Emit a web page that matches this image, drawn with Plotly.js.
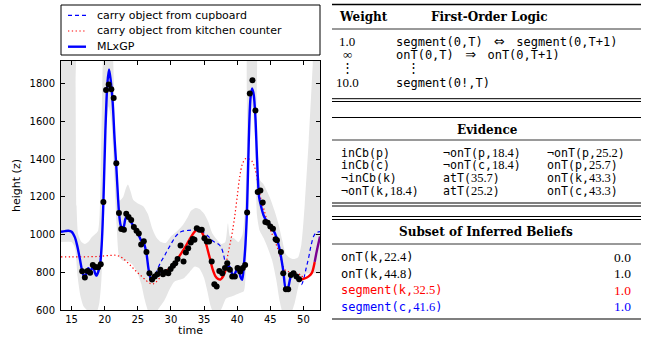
<!DOCTYPE html>
<html><head><meta charset="utf-8">
<script src="https://cdn.plot.ly/plotly-3.0.1.min.js"></script>
<style>body{margin:0;background:#fff}</style>
</head><body><div id="chart" style="width:651px;height:337px"></div>
<script>
// ---------- data ----------
const xTickVals = [15, 20, 25, 30, 35, 40, 45, 50];
const yTickVals = [600, 800, 1000, 1200, 1400, 1600, 1800];

const obsT = [16.6,17.0,17.4,17.8,18.2,18.6,19.0,19.4,19.8,20.2,20.6,21.0,21.35,21.75,22.15,22.5,22.9,23.25,23.6,24.0,24.4,24.8,25.15,25.5,25.9,26.3,26.75,27.15,27.55,27.95,28.4,28.8,29.2,29.6,29.95,30.3,30.65,31.0,31.45,31.9,32.25,32.6,33.0,33.3,33.55,33.9,34.3,34.65,35.05,35.4,35.75,36.15,36.55,36.9,37.3,37.75,38.15,38.5,38.9,39.25,39.65,40.05,40.45,40.85,41.2,41.5,41.9,42.3,42.75,43.1,43.5,43.85,44.25,44.6,45.0,45.4,45.8,46.0,46.6,46.95,47.35,47.7,48.1,48.5,48.95,49.35];
const obsV = [805,772,807,798,838,828,827,843,1172,1766,1796,1770,1724,1378,1114,1029,1025,1110,1093,1077,1040,1020,1006,947,965,908,795,762,777,790,813,790,802,795,818,834,848,870,942,857,905,928,958,977,972,1034,1025,1025,981,963,963,857,737,724,807,795,822,848,813,777,777,822,804,822,839,1117,1748,1818,1658,1226,1234,1170,1066,1063,1043,1031,975,970,907,795,710,710,786,795,777,763];

const mlxgpT = [13.4,14.0,14.5,15.0,15.5,15.85,16.25,16.6,16.8,17.0,17.25,17.5,17.75,18.0,18.25,18.5,18.75,19.0,19.3,19.55,19.8,20.1,20.4,20.65,20.9,21.2,21.5,21.75,22.0,22.2,22.45,22.8,23.1,23.35,23.7,24.0,24.4,24.8,25.15,25.5,25.9,26.3,26.6,26.9,27.15,27.5,27.9,28.4,28.8,29.0,29.5,30.0,30.5,31.0,31.5,32.0,32.5,33.0,33.5,34.0,34.3,34.7,35.1,35.5,35.9,36.3,36.7,37.1,37.5,37.9,38.3,38.55,38.8,39.06,39.4,39.75,40.15,40.5,40.75,41.0,41.25,41.5,41.75,42.0,42.25,42.5,42.75,43.0,43.3,43.6,43.95,44.3,44.95,45.45,45.97,46.47,46.97,47.33,47.63,48.08,48.47,49.0,49.5,50.0,50.74,51.25,51.7,52.0,52.5];
const mlxgpV = [1015,1018,1020,1015,985,940,870,805,785,775,795,822,812,815,830,800,782,800,840,950,1170,1550,1800,1875,1820,1700,1500,1360,1200,1100,1045,1035,1080,1100,1085,1065,1040,1015,995,968,955,900,820,770,758,772,790,805,800,802,812,825,845,870,898,925,955,985,1012,1028,1028,1010,975,925,870,815,780,765,762,780,815,834,830,810,778,800,830,775,760,835,950,1150,1500,1720,1775,1740,1620,1400,1200,1150,1105,1080,1052,1025,981,910,804,715,715,777,795,777,760,765,777,795,855,910,990];
// times where the inferred segment label changes
const segmentStartT = [13.4, 29.0, 38.3, 49.5, 51.7];
const segmentLabel = ['cupboard', 'counter', 'cupboard', 'counter', 'both'];

const cupboardT = [26.9,27.3,27.8,28.2,28.6,29.1,29.6,30.1,30.6,31.1,31.6,32.1,32.6,33.1,33.6,34.1,34.6,35.0,35.4,35.8,36.1,36.5,36.9,37.3,37.6,37.9,38.15,38.4,null,49.3,49.7,50.0,50.4,50.8,51.2,51.6,52.0,52.5];
const cupboardV = [770,772,800,835,862,892,925,955,985,1005,1016,1020,1022,1024,1025,1022,1016,1008,998,985,972,962,955,945,930,900,858,830,null,770,735,760,820,880,950,995,1010,1016];

const counterT = [13.4,15,17,19,20,21,21.7,22.2,22.8,23.5,24.2,24.9,25.6,26.3,26.9,27.3,27.8,28.3,28.8,29.2,null,37.6,38.0,38.4,38.8,39.2,39.6,40.0,40.4,40.8,41.3,41.8,42.2,42.6,42.9,43.2,43.5,43.9,44.3,44.8,45.2,45.7,46.2,46.7,47.2,47.7,48.5,49.0,49.5,50.0];
const counterV = [882,882,882,884,887,890,890,885,872,850,825,800,778,755,740,738,750,770,792,805,null,770,800,860,930,1000,1090,1200,1310,1375,1403,1400,1390,1360,1320,1250,1200,1150,1100,1040,1008,963,919,857,813,804,800,795,787,770];

const bandUpperT = [13.4,15.4,15.6,15.75,16.0,16.5,17.0,17.5,18.0,18.5,19.0,19.4,19.7,20.0,21.0,21.3,21.6,21.9,22.3,22.8,23.2,23.5,23.9,24.3,25.0,25.8,26.5,27.2,27.8,28.5,29.2,30.0,31.0,31.8,32.5,33.0,33.6,34.3,35.0,35.6,36.2,36.9,37.6,38.2,38.6,38.9,39.5,40.2,40.8,41.2,41.5,41.8,42.7,42.9,43.1,43.5,43.9,44.5,45.0,45.6,46.2,46.8,47.3,47.8,48.5,49.2,49.7,50.2,50.8,51.4,51.6,52.5];
const bandUpperV = [2100,2100,1800,1150,1000,960,950,960,985,1000,1020,1300,1900,2100,2100,1900,1500,1200,1180,1200,1245,1265,1230,1185,1165,1150,1110,1030,985,960,955,990,1020,1050,1090,1125,1140,1135,1110,1070,1010,975,950,960,1060,990,980,960,1000,1150,1500,2100,2100,1600,1340,1285,1270,1230,1190,1130,1060,970,900,880,870,880,950,1160,1500,1900,2100,2100];
const bandLowerT = [13.4,15.0,15.5,15.9,16.3,16.8,17.3,17.8,18.3,18.8,19.2,19.5,19.8,20.2,20.6,21.0,21.4,21.8,22.2,22.8,23.5,24.2,24.9,25.5,26.0,26.5,27.0,27.6,28.2,29.0,29.8,30.5,31.3,32.0,32.8,33.6,34.3,35.0,35.5,36.0,36.5,37.2,37.8,38.3,39.0,39.7,40.4,41.0,41.3,41.6,41.9,42.3,42.7,43.0,43.4,44.0,44.6,45.3,45.9,46.4,46.9,47.5,48.1,48.7,49.2,49.6,50.2,51.0,51.8,52.5];
const bandLowerV = [960,960,930,780,680,620,600,590,580,590,640,760,1050,1550,1680,1600,1350,1050,880,860,860,840,800,740,660,600,570,580,610,650,710,750,760,770,800,830,820,770,700,620,580,580,620,660,670,680,690,700,800,1200,1600,1680,1500,1100,1020,980,930,860,760,650,580,560,580,640,720,770,790,795,795,795];

const legendNames = ['carry object from cupboard', 'carry object from kitchen counter', 'MLxGP'];
const xTitle = 'time';
const yTitle = 'height (z)';

const folHeader = ['Weight', 'First-Order Logic'];
const folWeights = ['1.0', '∞', '⋮', '10.0'];
const folFormulas = ['segment(0,T) ⇔ segment(0,T+1)', 'onT(0,T) ⇒ onT(0,T+1)', '⋮', 'segment(0!,T)'];
const evidenceTitle = 'Evidence';
const evidenceCol1 = ['inCb(p)', 'inCb(c)', '¬inCb(k)', '¬onT(k,18.4)'];
const evidenceCol2 = ['¬onT(p,18.4)', '¬onT(c,18.4)', 'atT(35.7)', 'atT(25.2)'];
const evidenceCol3 = ['¬onT(p,25.2)', 'onT(p,25.7)', 'onT(k,43.3)', 'onT(c,43.3)'];
const beliefsTitle = 'Subset of Inferred Beliefs';
const beliefAtoms = ['onT(k,22.4)', 'onT(k,44.8)', 'segment(k,32.5)', 'segment(c,41.6)'];
const beliefProbs = ['0.0', '1.0', '1.0', '1.0'];

// ---------- styles ----------
const W = 651, H = 337;
const X = p => p / W, Y = p => 1 - p / H;
const BLUE = '#0000ff', RED = '#ff0000', PURPLE = '#7a0090';
const segColor = {cupboard: BLUE, counter: RED, both: PURPLE};
const beliefColors = ['#000', '#000', RED, BLUE];
const MONO = 'DejaVu Sans Mono', SERIF = 'Liberation Serif', HEAD = 'DejaVu Serif', SANS = 'DejaVu Sans';
const cupboardLine = {color: BLUE, width: 1.2, dash: '4px,3px'};
const counterLine = {color: RED, width: 1.2, dash: '1.3px,2.5px'};
const mlxgpLine = {color: BLUE, width: 2.4};

function fmt(s) {
  return s
    .replace(/\d+\.\d+/g, m => `<span style="font-family:${SERIF};font-size:12.5px">${m}</span>`)
    .replace(/ ([⇔⇒]) /g, (m, a) => ` <span style="font-family:${SANS};font-size:13px"> ${a} </span> `);
}

// ---------- traces ----------
const traces = [];
traces.push({
  x: bandUpperT.concat(bandLowerT.slice().reverse()),
  y: bandUpperV.concat(bandLowerV.slice().reverse()),
  type: 'scatter', mode: 'lines', fill: 'toself', fillcolor: 'rgb(229,229,229)',
  line: {width: 0, shape: 'spline', smoothing: 0.6}, showlegend: false, hoverinfo: 'skip'
});
traces.push({x: cupboardT, y: cupboardV, type: 'scatter', mode: 'lines', name: legendNames[0],
  line: Object.assign({shape: 'spline'}, cupboardLine), showlegend: false});
traces.push({x: counterT, y: counterV, type: 'scatter', mode: 'lines', name: legendNames[1],
  line: Object.assign({shape: 'spline'}, counterLine), showlegend: false});
segmentStartT.forEach((t0, i) => {
  const t1 = i + 1 < segmentStartT.length ? segmentStartT[i + 1] : Infinity;
  const xs = [], ys = [];
  mlxgpT.forEach((t, k) => { if (t >= t0 && t <= t1) { xs.push(t); ys.push(mlxgpV[k]); } });
  traces.push({x: xs, y: ys, type: 'scatter', mode: 'lines', name: legendNames[2],
    line: {color: segColor[segmentLabel[i]], width: mlxgpLine.width, shape: 'spline', smoothing: 0.8},
    showlegend: false});
});
traces.push({x: obsT, y: obsV, type: 'scatter', mode: 'markers', showlegend: false,
  marker: {color: '#000', size: 6}});

// ---------- annotations and rules ----------
const ann = [];
const shapes = [];
function txt(text, x, y, anchor, font) {
  ann.push({text, x: X(x), y: Y(y), xref: 'paper', yref: 'paper', xanchor: anchor, yanchor: 'middle',
    showarrow: false, borderpad: 0, font: Object.assign({family: MONO, size: 12, color: '#000'}, font || {})});
}
function rule(y, w) {
  shapes.push({type: 'line', xref: 'paper', yref: 'paper', x0: X(332), x1: X(641), y0: Y(y), y1: Y(y),
    line: {color: '#000', width: w}});
}
// legend (drawn by hand so the row spacing matches)
shapes.push({type: 'rect', xref: 'paper', yref: 'paper', x0: X(61), x1: X(320), y0: Y(5), y1: Y(55),
  line: {color: '#000', width: 1}, fillcolor: 'rgba(0,0,0,0)'});
const legendRowY = [15.3, 31, 46.7];
[cupboardLine, counterLine, mlxgpLine].forEach((ln, i) => {
  shapes.push({type: 'line', xref: 'paper', yref: 'paper', x0: X(68), x1: X(86), y0: Y(legendRowY[i]), y1: Y(legendRowY[i]),
    line: ln});
  txt(legendNames[i], 96, legendRowY[i], 'left', {family: SANS, size: 11});
});
// table 1
rule(4.5, 1.4);
txt('<b>' + folHeader[0] + '</b>', 363, 17, 'center', {family: HEAD, size: 12});
txt('<b>' + folHeader[1] + '</b>', 489, 17, 'center', {family: HEAD, size: 12});
rule(29, 0.8);
const folRowY = [42, 55, 68, 83];
folWeights.forEach((w, i) => txt(w, 347, folRowY[i], 'center', {family: SERIF, size: 13}));
folFormulas.forEach((f, i) => {
  if (f === '⋮') txt(f, 413, folRowY[i], 'center', {family: SERIF, size: 13});
  else txt(fmt(f), 395, folRowY[i], 'left');
});
rule(98.7, 1); rule(101.5, 1);
// table 2
rule(117.5, 1);
txt('<b>' + evidenceTitle + '</b>', 487, 130, 'center', {family: HEAD, size: 12});
rule(140, 0.8);
const evRowY = [152.5, 165.4, 178.3, 191];
[evidenceCol1, evidenceCol2, evidenceCol3].forEach((col, c) => {
  const cx = [340, 441.5, 546][c];
  col.forEach((s, i) => txt(fmt(s), cx, evRowY[i], 'left', {size: 11.6}));
});
rule(203, 1); rule(206, 1);
// table 3
rule(216.5, 1); rule(219.5, 1);
txt('<b>' + beliefsTitle + '</b>', 486, 232, 'center', {family: HEAD, size: 12});
rule(244, 0.8);
const blRowY = [257, 273.5, 290, 306.5];
beliefAtoms.forEach((s, i) => {
  txt(fmt(s), 340, blRowY[i], 'left', {color: beliefColors[i]});
  txt(beliefProbs[i], 632, blRowY[i], 'right', {family: SERIF, size: 13.5, color: beliefColors[i]});
});
rule(319, 1.2);

const axisCommon = {ticks: 'inside', ticklen: 4, tickwidth: 1, tickcolor: '#000', showline: true,
  linecolor: '#000', linewidth: 1, mirror: 'ticks', showgrid: false, zeroline: false,
  tickfont: {family: SANS, size: 10, color: '#000'}};

const layout = {
  width: W, height: H, margin: {l: 0, r: 0, t: 0, b: 0},
  paper_bgcolor: '#fff', plot_bgcolor: '#fff', showlegend: false,
  xaxis: Object.assign({}, axisCommon, {domain: [X(61), X(320)], range: [13.4, 52.5], tickvals: xTickVals,
    title: {text: xTitle, font: {family: SANS, size: 11, color: '#000'}, standoff: 0}}),
  yaxis: Object.assign({}, axisCommon, {domain: [Y(310), Y(61)], range: [600, 1920], tickvals: yTickVals,
    ticklabelstandoff: 3,
    title: {text: yTitle, font: {family: SANS, size: 11, color: '#000'}, standoff: 6}}),
  annotations: ann, shapes: shapes
};
Plotly.newPlot('chart', traces, layout, {staticPlot: true, displayModeBar: false});
</script></body></html>
